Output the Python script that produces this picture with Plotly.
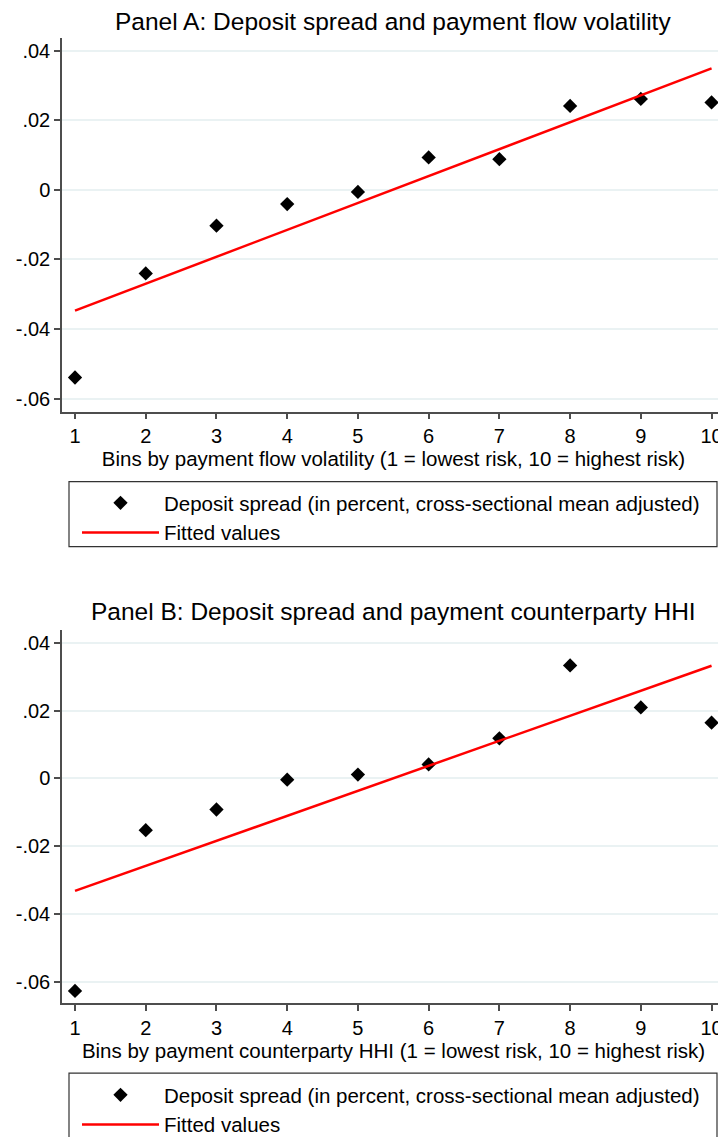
import plotly.graph_objects as go

# ---------------- data ----------------
bins = [1, 2, 3, 4, 5, 6, 7, 8, 9, 10]
spread_a = [-0.0539, -0.0240, -0.0103, -0.0041, -0.0006, 0.0093, 0.0088, 0.0241, 0.0261, 0.0251]
spread_b = [-0.0627, -0.0153, -0.0092, -0.0004, 0.0011, 0.0041, 0.0118, 0.0333, 0.0209, 0.0164]
fit_x = [1, 10]
fit_a = [-0.0347, 0.0349]
fit_b = [-0.0332, 0.0332]
ytick_vals = [-0.06, -0.04, -0.02, 0, 0.02, 0.04]
ytick_text = ["-.06", "-.04", "-.02", "0", ".02", ".04"]
xtick_vals = bins
xtick_text = [str(b) for b in bins]

title_a = "Panel A: Deposit spread and payment flow volatility"
title_b = "Panel B: Deposit spread and payment counterparty HHI"
xtitle_a = "Bins by payment flow volatility (1 = lowest risk, 10 = highest risk)"
xtitle_b = "Bins by payment counterparty HHI (1 = lowest risk, 10 = highest risk)"
name_pts = "Deposit spread (in percent, cross-sectional mean adjusted)"
name_fit = "Fitted values"

# ---------------- layout helpers ----------------
# the page body adds an 8px offset; positions below are in window pixels
OFF = 8
W, H = 726, 1137
def xp(px):
    return (px - OFF) / W
def yp(py):
    return 1 - (py - OFF) / H

FONT = "Liberation Sans, Arial, sans-serif"
AXC = "#4d4d4d"
GRID = "#eaf2f3"

fig = go.Figure()

fig.add_trace(go.Scatter(x=bins, y=spread_a, mode="markers", name=name_pts,
                         marker=dict(symbol="diamond", size=11, color="black"),
                         xaxis="x", yaxis="y", legend="legend"))
fig.add_trace(go.Scatter(x=fit_x, y=fit_a, mode="lines", name=name_fit,
                         line=dict(color="#ff0000", width=2.5),
                         xaxis="x", yaxis="y", legend="legend"))
fig.add_trace(go.Scatter(x=bins, y=spread_b, mode="markers", name=name_pts,
                         marker=dict(symbol="diamond", size=11, color="black"),
                         xaxis="x2", yaxis="y2", legend="legend2"))
fig.add_trace(go.Scatter(x=fit_x, y=fit_b, mode="lines", name=name_fit,
                         line=dict(color="#ff0000", width=2.5),
                         xaxis="x2", yaxis="y2", legend="legend2"))

def xaxis_cfg(anchor, title):
    return dict(domain=[xp(62), xp(725)], anchor=anchor, range=[0.816, 10.19],
                tickvals=xtick_vals, ticktext=xtick_text,
                showline=True, linecolor=AXC, linewidth=1.5,
                ticks="outside", ticklen=6, tickcolor=AXC, tickwidth=1.5,
                showgrid=False, zeroline=False,
                tickfont=dict(family=FONT, size=20, color="black"),
                title=dict(text=title, font=dict(family=FONT, size=20.5, color="black"), standoff=3))

def yaxis_cfg(anchor, dom, rng):
    return dict(domain=dom, anchor=anchor, range=rng,
                tickvals=ytick_vals, ticktext=ytick_text,
                showline=True, linecolor=AXC, linewidth=1.5,
                ticks="outside", ticklen=6, tickcolor=AXC, tickwidth=1.5,
                showgrid=True, gridcolor=GRID, gridwidth=1.5, zeroline=False,
                tickfont=dict(family=FONT, size=20, color="black"))

leg_common = dict(xanchor="left", yanchor="top", bgcolor="rgba(0,0,0,0)",
                  borderwidth=0, font=dict(family=FONT, size=20.5, color="black"),
                  itemwidth=77, tracegroupgap=0)

fig.update_layout(
    width=W, height=H, margin=dict(l=0, r=0, t=0, b=0),
    paper_bgcolor="white", plot_bgcolor="white",
    showlegend=True,
    xaxis=xaxis_cfg("y", xtitle_a),
    yaxis=yaxis_cfg("x", [yp(412), yp(37.7)], [-0.0637, 0.0437]),
    xaxis2=xaxis_cfg("y2", xtitle_b),
    yaxis2=yaxis_cfg("x2", [yp(1004.3), yp(630.7)], [-0.0664, 0.0437]),
    legend=dict(x=xp(77), y=yp(483), **leg_common),
    legend2=dict(x=xp(77), y=yp(1076), **leg_common),
    annotations=[
        dict(text=title_a, x=xp(393), y=yp(21.5), xref="paper", yref="paper",
             xanchor="center", yanchor="middle", showarrow=False,
             font=dict(family=FONT, size=24.5, color="black")),
        dict(text=title_b, x=xp(393), y=yp(612), xref="paper", yref="paper",
             xanchor="center", yanchor="middle", showarrow=False,
             font=dict(family=FONT, size=24.5, color="black")),
    ],
    shapes=[
        dict(type="rect", xref="paper", yref="paper", x0=xp(69), x1=xp(717),
             y0=yp(547), y1=yp(482), line=dict(color="#333333", width=1.2)),
        dict(type="rect", xref="paper", yref="paper", x0=xp(69), x1=xp(717),
             y0=yp(1150), y1=yp(1074), line=dict(color="#333333", width=1.2)),
    ],
)

fig.write_html("out.html")
